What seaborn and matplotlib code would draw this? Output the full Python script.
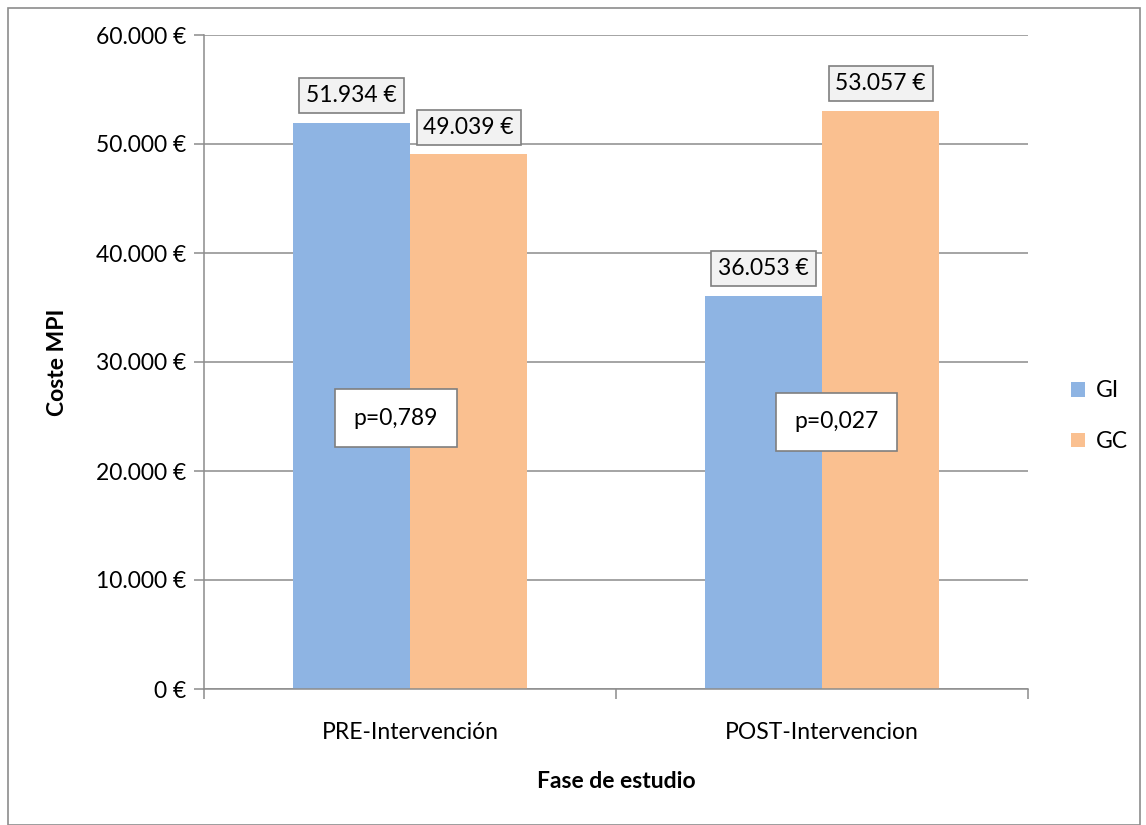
import matplotlib
matplotlib.use("Agg")
import matplotlib.pyplot as plt
import seaborn as sns
import pandas as pd
from matplotlib.patches import Rectangle

phases = ["PRE-Intervención", "POST-Intervencion"]
groups = ["GI", "GC"]
gi_values = [51934, 36053]
gc_values = [49039, 53057]
p_labels = ["p=0,789", "p=0,027"]
y_ticks = [0, 10000, 20000, 30000, 40000, 50000, 60000]
colors = {"GI": "#8EB4E3", "GC": "#FAC090"}

def euro(v):
    return f"{v:,.0f}".replace(",", ".") + "\u00a0€"

df = pd.DataFrame({
    "Fase": phases * 2,
    "Grupo": ["GI"] * len(phases) + ["GC"] * len(phases),
    "Coste": gi_values + gc_values,
})

sns.set_theme(style="white")
plt.rcParams["font.family"] = ["Lato", "DejaVu Sans"]
plt.rcParams["text.color"] = "black"
plt.rcParams["axes.labelcolor"] = "black"
plt.rcParams["xtick.color"] = "black"
plt.rcParams["ytick.color"] = "black"

FS = 16.5

fig = plt.figure(figsize=(11.46, 8.25), dpi=100)
ax = fig.add_axes([204/1146, 1-689/825, (1028-204)/1146, (689-35)/825])

sns.barplot(data=df, x="Fase", y="Coste", hue="Grupo", order=phases,
            hue_order=groups, palette=colors, width=0.57, saturation=1,
            linewidth=0, ax=ax, zorder=2)

ax.set_ylim(0, 60000)
ax.set_xlim(-0.5, 1.5)
ax.set_yticks(y_ticks)
ax.set_yticklabels([euro(v) for v in y_ticks], fontsize=FS)
ax.yaxis.grid(True, color="#8C8C8C", linewidth=1.1)
ax.set_axisbelow(True)

ax.set_xticks([0, 1])
ax.set_xticklabels(phases, fontsize=FS)
ax.set_xticks([-0.5, 0.5, 1.5], minor=True)
ax.tick_params(axis="x", which="major", length=0, pad=24)
ax.tick_params(axis="x", which="minor", length=7, color="#8C8C8C", width=1.1, direction="out", bottom=True)
ax.tick_params(axis="y", length=7, color="#8C8C8C", width=1.1, direction="out", left=True, pad=6)

for s in ["top", "right"]:
    ax.spines[s].set_visible(False)
for s in ["left", "bottom"]:
    ax.spines[s].set_color("#8C8C8C")
    ax.spines[s].set_linewidth(1.1)

ax.set_xlabel("Fase de estudio", fontsize=FS, fontweight="bold", labelpad=20)
ax.set_ylabel("Coste MPI", fontsize=FS, fontweight="bold", labelpad=20)

box = dict(boxstyle="square,pad=0.3", facecolor="#F2F2F2", edgecolor="#7F7F7F", linewidth=1.2)
for cont, vals in zip(ax.containers, [gi_values, gc_values]):
    ax.bar_label(cont, labels=[euro(v) for v in vals], padding=12, fontsize=FS,
                 bbox=box, zorder=5)

pbox = dict(boxstyle="square,pad=0.8", facecolor="white", edgecolor="#7F7F7F", linewidth=1.2)
p_x = [-0.034, 1.036]
p_y = [24860, 24500]
for xx, yy, t in zip(p_x, p_y, p_labels):
    ax.text(xx, yy, t, ha="center", va="center", fontsize=FS, bbox=pbox, zorder=6)

leg = ax.legend(loc="center left", bbox_to_anchor=(1.027, 0.417), frameon=False,
                fontsize=FS, handlelength=0.6, handleheight=0.6, labelspacing=1.3,
                handletextpad=0.5)

fig.patches.append(Rectangle((8/1146, 0.0), (1140-8)/1146, (825-8)/825, transform=fig.transFigure,
                             fill=False, edgecolor="#8C8C8C", linewidth=1.2))

fig.savefig("out.png", dpi=100)
